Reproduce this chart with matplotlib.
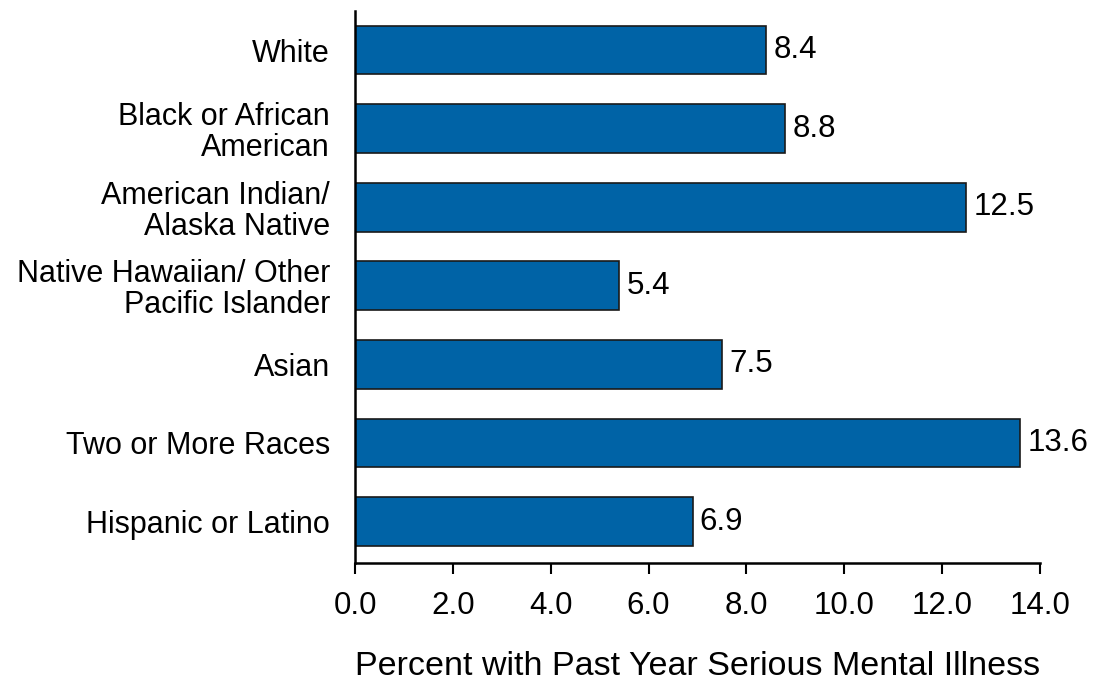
import matplotlib
matplotlib.use('Agg')
from matplotlib import pyplot as plt
import numpy as np

categories = ['White', 'Black or African\nAmerican', 'American Indian/\nAlaska Native',
              'Native Hawaiian/ Other\nPacific Islander', 'Asian', 'Two or More Races',
              'Hispanic or Latino']
values = [8.4, 8.8, 12.5, 5.4, 7.5, 13.6, 6.9]
xticks = [0, 2, 4, 6, 8, 10, 12, 14]

plt.rcParams['font.family'] = ['Liberation Sans', 'DejaVu Sans']

fig = plt.figure(figsize=(10.94, 6.82), dpi=100)
ax = fig.add_axes([0.3245, 0.1745, 0.626, 0.81])

y = np.arange(len(categories))
ax.barh(y, values, height=0.62, color='#0063A6', edgecolor='#1a1a1a', linewidth=1.2)
for yi, v in zip(y, values):
    ax.text(v + 0.15, yi, f'{v:.1f}', va='center', ha='left', fontsize=22.5)

ax.set_ylim(6.527, -0.502)
ax.set_xlim(0, 14)
ax.set_xticks(xticks)
ax.set_xticklabels([f'{t:.1f}' for t in xticks], fontsize=22.5)
ax.set_yticks(y)
ax.set_yticklabels(categories, fontsize=22, ha='right', linespacing=1.05)
ax.tick_params(axis='y', length=0, pad=18)
ax.tick_params(axis='x', length=8, width=1.5, pad=12)
for s in ['top', 'right']:
    ax.spines[s].set_visible(False)
for s in ['left', 'bottom']:
    ax.spines[s].set_linewidth(1.8)
ax.set_xlabel('Percent with Past Year Serious Mental Illness', fontsize=24.5, labelpad=22)

fig.savefig('out.png', dpi=100)
